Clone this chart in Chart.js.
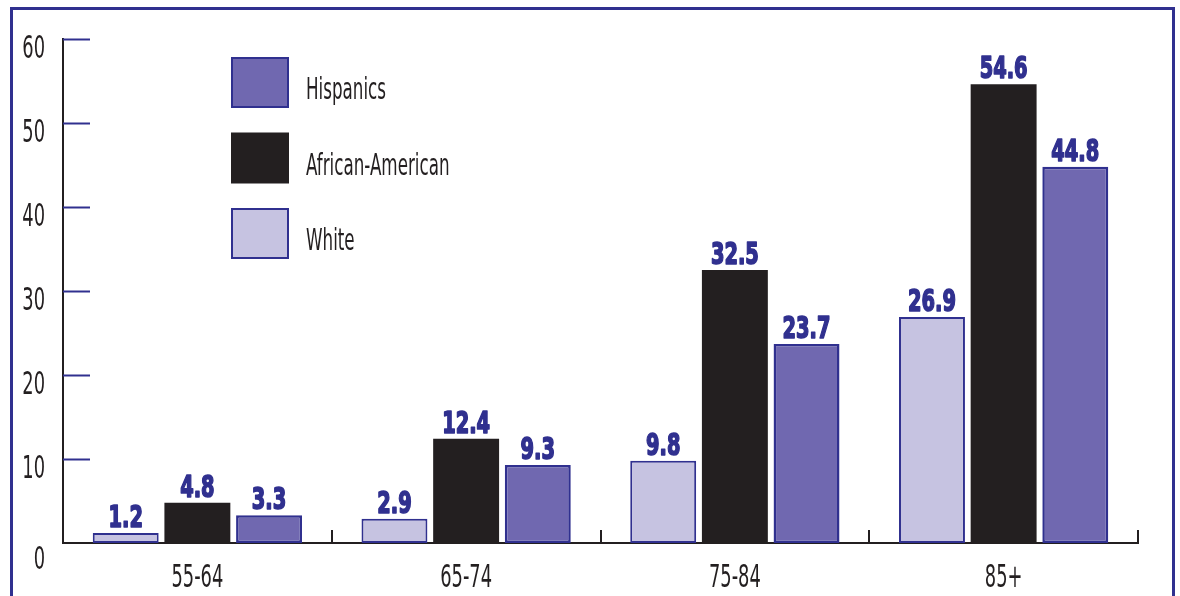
<!DOCTYPE html>
<html>
<head>
<meta charset="utf-8">
<script src="https://cdn.jsdelivr.net/npm/chart.js@4/dist/chart.umd.min.js"></script>
<style>
  body { margin: 0; background: #fff; }
  #wrap { width: 1180px; height: 596px; }
</style>
</head>
<body>
<div id="wrap"><canvas id="bar-chart" width="1180" height="596"></canvas></div>
<script>
const AGE_GROUPS = ["55-64", "65-74", "75-84", "85+"];
const WHITE = [1.2, 2.9, 9.8, 26.9];
const AFRICAN_AMERICAN = [4.8, 12.4, 32.5, 54.6];
const HISPANICS = [3.3, 9.3, 23.7, 44.8];
const Y_TICKS = [0, 10, 20, 30, 40, 50, 60];

const BLUE = "#30308f";
const INK = "#231f20";
const FONT = "'DejaVu Sans Condensed', 'DejaVu Sans', sans-serif";

// the source uses a very narrow face, so text is squeezed sideways
function narrowText(ctx, text, x, y, align, squeeze, heavy) {
   ctx.save();
   ctx.translate(x, y);
   ctx.scale(squeeze, 1);
   ctx.textAlign = align;
   ctx.textBaseline = "alphabetic";
   if (heavy) {
      ctx.strokeStyle = ctx.fillStyle;
      ctx.lineWidth = 1.6;
      ctx.lineJoin = "round";
      ctx.strokeText(text, 0, 0);
   }
   ctx.fillText(text, 0, 0);
   ctx.restore();
}

const decorations = {
   id: "decorations",
   afterDraw(chart) {
      const ctx = chart.ctx;
      const area = chart.chartArea;
      const x = chart.scales.x;
      const y = chart.scales.y;
      ctx.save();

      // outer frame, open at the bottom
      ctx.strokeStyle = BLUE;
      ctx.lineWidth = 3;
      ctx.beginPath();
      ctx.moveTo(11.5, 596);
      ctx.lineTo(11.5, 8.5);
      ctx.lineTo(1173.5, 8.5);
      ctx.lineTo(1173.5, 596);
      ctx.stroke();

      // blue ticks pointing into the plot + y labels
      ctx.lineWidth = 2;
      ctx.fillStyle = INK;
      ctx.font = "32px " + FONT;
      Y_TICKS.forEach(v => {
         const py = Math.round(y.getPixelForValue(v)) + 0.5;
         if (v > 0) {
            ctx.beginPath();
            ctx.moveTo(area.left, py);
            ctx.lineTo(area.left + 27, py);
            ctx.stroke();
         }
         narrowText(ctx, String(v), 45, py + (v === 0 ? 25 : 18), "right", 0.62);
      });

      // category separators + x labels
      ctx.strokeStyle = INK;
      const step = (area.right - area.left) / AGE_GROUPS.length;
      for (let i = 1; i <= AGE_GROUPS.length; i++) {
         const px = Math.round(area.left + step * i);
         ctx.beginPath();
         ctx.moveTo(px, area.bottom);
         ctx.lineTo(px, area.bottom - 13);
         ctx.stroke();
      }
      AGE_GROUPS.forEach((label, i) => {
         narrowText(ctx, label, x.getPixelForValue(i), area.bottom + 44, "center", 0.62);
      });

      // values over the bars
      ctx.fillStyle = BLUE;
      ctx.font = "bold 30px " + FONT;
      chart.data.datasets.forEach((ds, i) => {
         chart.getDatasetMeta(i).data.forEach((bar, j) => {
            narrowText(ctx, ds.data[j].toFixed(1), bar.x, bar.y - 6, "center", 0.72, true);
         });
      });

      // legend, last series first
      const order = chart.data.datasets.slice().reverse();
      ctx.font = "30px " + FONT;
      order.forEach((ds, i) => {
         const top = 57 + i * 75.5;
         ctx.fillStyle = ds.backgroundColor;
         ctx.fillRect(231, top, 58, 51);
         if (ds.borderWidth) {
            ctx.strokeStyle = ds.borderColor;
            ctx.lineWidth = 2;
            ctx.strokeRect(232, top + 1, 56, 49);
         }
         ctx.fillStyle = INK;
         narrowText(ctx, ds.label, 306, top + 42, "left", 0.62);
      });
      ctx.restore();
   }
};

const chartData = {
   labels: AGE_GROUPS,
   datasets: [{
      label: "White",
      data: WHITE,
      backgroundColor: "#c6c3e1",
      borderColor: BLUE,
      borderWidth: 2
   }, {
      label: "African-American",
      data: AFRICAN_AMERICAN,
      backgroundColor: INK,
      borderColor: INK,
      borderWidth: 0
   }, {
      label: "Hispanics",
      data: HISPANICS,
      backgroundColor: "#7068b0",
      borderColor: BLUE,
      borderWidth: 2.5
   }]
};

const config = {
   type: "bar",
   data: chartData,
   options: {
      responsive: false,
      animation: false,
      layout: { padding: { top: 39, right: 42, left: 0, bottom: 0 } },
      datasets: {
         bar: { categoryPercentage: 0.8, barPercentage: 0.92, borderSkipped: false }
      },
      plugins: {
         legend: { display: false },
         tooltip: { enabled: false }
      },
      scales: {
         x: {
            grid: { display: false, drawTicks: false, tickLength: 0 },
            border: { display: true, color: INK, width: 2 },
            ticks: { display: false },
            afterFit: scale => { scale.height = 53; }
         },
         y: {
            min: 0,
            max: 60,
            grid: { display: false, drawTicks: false, tickLength: 0 },
            border: { display: true, color: INK, width: 2 },
            ticks: { display: false, stepSize: 10 },
            afterFit: scale => { scale.width = 63; }
         }
      }
   },
   plugins: [decorations]
};

new Chart("bar-chart", config);
</script>
</body>
</html>
